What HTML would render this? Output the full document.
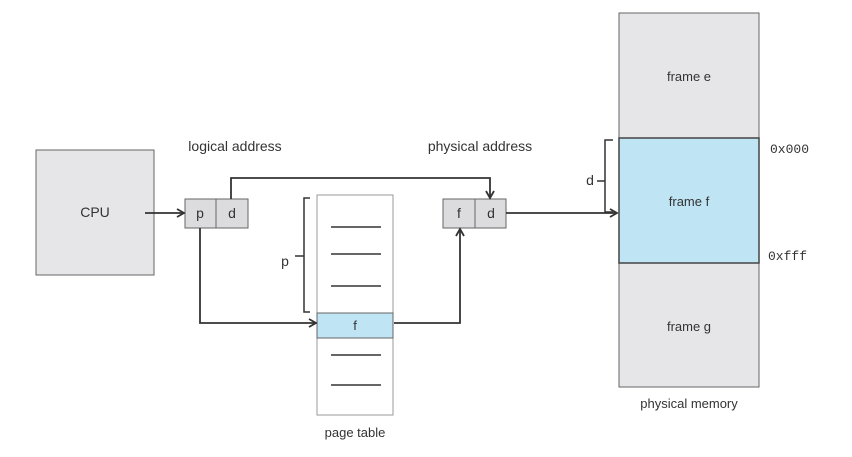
<!DOCTYPE html>
<html><head><style>
body{margin:0;background:#fff}
svg{display:block;font-family:"Liberation Sans",sans-serif}
</style></head><body>
<svg width="852" height="457" viewBox="0 0 852 457">
<defs><marker id="a" markerWidth="10" markerHeight="10" refX="8" refY="5" orient="auto" markerUnits="userSpaceOnUse"><path d="M1,1 L8,5 L1,9" fill="none" stroke="#333" stroke-width="1.8"/></marker></defs>
<g font-size="13" fill="#333">
<rect x="36" y="150" width="118" height="125" fill="#e6e6e8" stroke="#666"/>
<text x="95" y="217" text-anchor="middle" font-size="14">CPU</text>
<text x="235" y="151" text-anchor="middle" font-size="14">logical address</text>
<text x="480" y="151" text-anchor="middle" font-size="14">physical address</text>
<rect x="185" y="199" width="63" height="29" fill="#dcdcde" stroke="#666"/>
<line x1="216" y1="199" x2="216" y2="228" stroke="#666"/>
<text x="200" y="218" text-anchor="middle" font-size="14">p</text>
<text x="232" y="218" text-anchor="middle" font-size="14">d</text>
<rect x="443" y="199" width="63" height="29" fill="#dcdcde" stroke="#666"/>
<line x1="475" y1="199" x2="475" y2="228" stroke="#666"/>
<text x="459" y="218" text-anchor="middle" font-size="14">f</text>
<text x="491" y="218" text-anchor="middle" font-size="14">d</text>
<rect x="317" y="195" width="76" height="220" fill="#fff" stroke="#999"/>
<rect x="317" y="313" width="76" height="25" fill="#bfe4f4" stroke="#666"/>
<text x="355" y="330" text-anchor="middle">f</text>
<g stroke="#333" stroke-width="1.5">
<line x1="331" y1="227" x2="381" y2="227"/><line x1="331" y1="254" x2="381" y2="254"/><line x1="331" y1="286" x2="381" y2="286"/>
<line x1="331" y1="355" x2="381" y2="355"/><line x1="331" y1="385" x2="381" y2="385"/>
</g>
<text x="355" y="437" text-anchor="middle">page table</text>
<text x="285" y="266" text-anchor="middle" font-size="14">p</text>
<path d="M310,198 H304 V256 H295 M304,256 V312 H310" fill="none" stroke="#333" stroke-width="1.5"/>
<rect x="619" y="13" width="140" height="374" fill="#e6e6e8" stroke="#666"/>
<rect x="619" y="138" width="140" height="125" fill="#bfe4f4" stroke="#444" stroke-width="1.5"/>
<text x="689" y="81" text-anchor="middle">frame e</text>
<text x="689" y="206" text-anchor="middle">frame f</text>
<text x="689" y="331" text-anchor="middle">frame g</text>
<text x="689" y="408" text-anchor="middle">physical memory</text>
<g font-family="Liberation Mono,monospace" font-size="13"><text x="770" y="153">0x000</text><text x="768" y="260">0xfff</text></g>
<text x="590" y="185" text-anchor="middle" font-size="14">d</text>
<path d="M613,140 H605 V181 H597 M605,181 V212 H613" fill="none" stroke="#333" stroke-width="1.5"/>
</g>
<g fill="none" stroke="#333" stroke-width="1.8">
<path d="M145,213 H184" marker-end="url(#a)"/>
<path d="M231,199 V178 H490 V198" marker-end="url(#a)"/>
<path d="M200,228 V323 H316" marker-end="url(#a)"/>
<path d="M394,323 H460 V229" marker-end="url(#a)"/>
<path d="M506,213 H617" marker-end="url(#a)"/>
</g>
</svg>
</body></html>
